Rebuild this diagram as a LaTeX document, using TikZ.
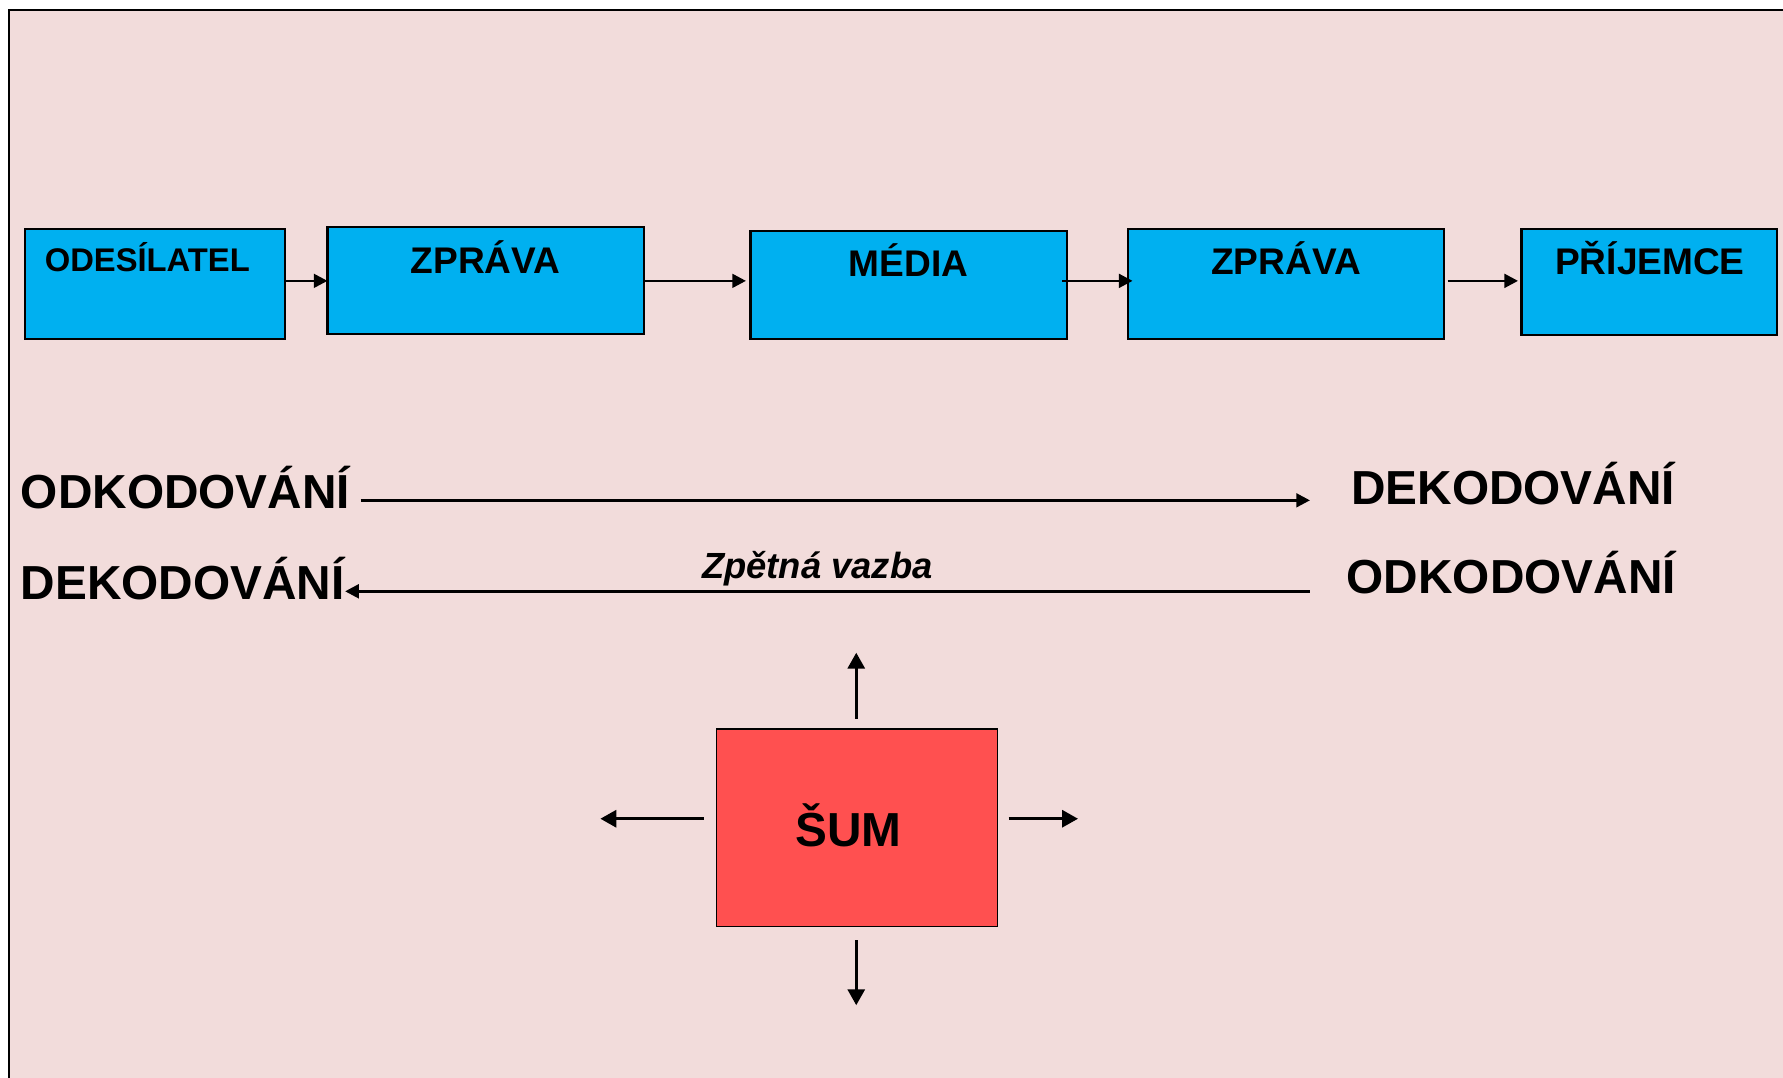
\documentclass[tikz,border=0pt]{standalone}
\usepackage{fontspec}
\setmainfont{Liberation Sans}
\usetikzlibrary{arrows.meta}
\definecolor{bgpink}{HTML}{F2DCDB}
\definecolor{boxblue}{HTML}{00B0F0}
\definecolor{noisered}{HTML}{FF5050}
\begin{document}
\begin{tikzpicture}[x=0.5pt,y=-0.5pt,
  blk/.style={draw=black, line width=0.9pt, fill=boxblue, inner sep=0pt, outer sep=0pt},
  noise/.style={draw=black, line width=0.6pt, fill=noisered, inner sep=0pt, outer sep=0pt},
  lbl/.style={inner sep=0pt, anchor=base, font=\bfseries\fontsize{16.3}{18}\selectfont},
  big/.style={inner sep=0pt, anchor=base west, font=\bfseries\fontsize{21}{24}\selectfont},
  arr/.style={line width=1.2pt, -{Triangle[length=6pt,width=6pt]}},
  bigarr/.style={line width=1.3pt, -{Triangle[length=7pt,width=7.5pt]}}]
\useasboundingbox (0,0) rectangle (1568,948);
\clip (0,0) rectangle (1568,948);
% background frame
\draw[line width=1pt, fill=bgpink] (8,9) rectangle (1600,990);

% top row boxes
\node[blk, minimum width=114.5pt, minimum height=48.5pt] (b1) at (136.5,249.5) {};
\node[blk, minimum width=139pt, minimum height=47pt] (b2) at (427,247) {};
\node[blk, minimum width=139pt, minimum height=47.5pt] (b3) at (799,250.5) {};
\node[blk, minimum width=139pt, minimum height=48.5pt] (b4) at (1131,249.5) {};
\node[blk, minimum width=112.5pt, minimum height=47pt] (b5) at (1450.5,248) {};

\node[inner sep=0pt, anchor=base west, font=\bfseries\fontsize{14.4}{16}\selectfont] (t1) at (39,238.5) {ODESÍLATEL};
\node[lbl] (t2) at (427,240.5) {ZPRÁVA};
\node[lbl] (t3) at (799,243) {MÉDIA};
\node[lbl] (t4) at (1131,241) {ZPRÁVA};
\node[lbl] (t5) at (1451,241) {PŘÍJEMCE};

% top row arrows
\draw[arr] (b1.east |- 0,247) -- (b2.west |- 0,247);
\draw[arr, shorten >=2pt] (b2.east |- 0,247) -- (b3.west |- 0,247);
\draw[arr, shorten <=-2pt, shorten >=-2pt] (b3.east |- 0,247) -- (b4.west |- 0,247);
\draw[arr, shorten <=1.5pt, shorten >=1.5pt] (b4.east |- 0,247) -- (b5.west |- 0,247);

% middle labels
\node[big] (lo) at (18,447) {ODKODOVÁNÍ};
\node[big] (rd) at (1188,444) {DEKODOVÁNÍ};
\node[big] (ld) at (18,527) {DEKODOVÁNÍ};
\node[big] (ro) at (1184,522) {ODKODOVÁNÍ};
\node[inner sep=0pt, anchor=base west, font=\bfseries\itshape\fontsize{16}{18}\selectfont] (zv) at (617,508.5) {Zpětná vazba};

\draw[arr, shorten <=4.5pt, shorten >=18pt] (lo.east |- 0,440) -- (rd.west |- 0,440);
\draw[arr, shorten <=16pt] (ro.west |- 0,520) -- (ld.east |- 0,520);

% noise
\node[noise, minimum width=123.5pt, minimum height=87pt] (sum) at (753.5,728) {};
\node[inner sep=0pt, anchor=base, font=\bfseries\fontsize{21}{24}\selectfont] (st) at (746,744) {ŠUM};
\coordinate (nu) at (753,574);
\coordinate (nd) at (753,884);
\coordinate (nl) at (528,720);
\coordinate (nr) at (948,720);
\draw[bigarr, shorten <=4.5pt] (sum.north -| nu) -- (nu);
\draw[bigarr, shorten <=6pt] (sum.south -| nd) -- (nd);
\draw[bigarr, shorten <=5.5pt] (sum.west |- nl) -- (nl);
\draw[bigarr, shorten <=5pt] (sum.east |- nr) -- (nr);
\end{tikzpicture}
\end{document}
